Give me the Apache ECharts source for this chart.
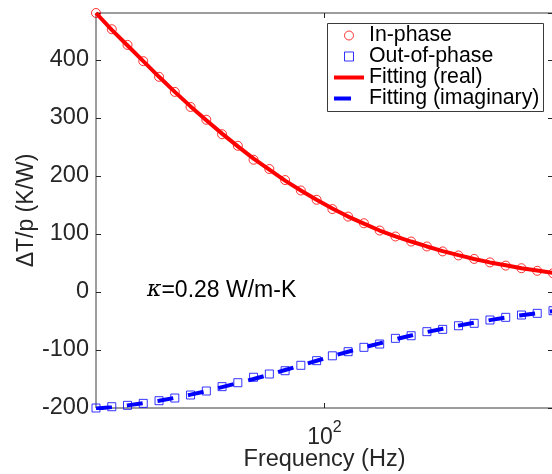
<!DOCTYPE html>
<html>
<head>
<meta charset="utf-8">
<script src="https://cdn.jsdelivr.net/npm/echarts@6/dist/echarts.min.js"></script>
<style>
html,body{margin:0;padding:0;background:#fff;}
#chart{width:552px;height:474px;}
</style>
</head>
<body>
<div id="chart"></div>
<script>
const freq = [20, 22.35, 24.97, 27.9, 31.18, 34.84, 38.93, 43.5, 48.6, 54.31, 60.68, 67.81, 75.77, 84.66, 94.6, 105.7, 118.1, 132.0, 147.5, 164.8, 184.1, 205.7, 229.9, 256.9, 287.0, 320.7, 358.4, 400.4, 447.4, 500];
const inPhase = [481, 453, 426, 398, 371, 345, 319, 297, 272, 252, 228, 212, 193, 175, 159, 143, 130, 118.5, 106, 95.7, 87, 78.5, 70, 63, 57, 51, 45.5, 41, 36.5, 32.3];
const outPhase = [-200, -197.8, -195.4, -192, -187.4, -182.8, -177.6, -170.7, -163.2, -156.4, -147, -141.4, -135.7, -126.4, -118.4, -110, -102.9, -95.4, -89.7, -79.9, -75.4, -68.4, -64.4, -58.2, -54, -48.3, -43.7, -39.7, -36.8, -32.3];
const fitReal = [481, 452, 425, 398, 371, 345, 320, 296, 273, 251, 230, 211, 192, 175, 159, 144, 130, 118, 106, 96, 87, 78.5, 70.5, 63.5, 57, 51, 46, 41, 37, 33];
const fitImag = [-201, -198.5, -195.5, -191.5, -187.5, -182.5, -177, -171, -164, -157, -150, -142.5, -134.5, -126.5, -118.5, -110.5, -103, -95.5, -88.5, -81.5, -75, -69, -63.5, -58, -53, -48.5, -44, -40, -36.5, -33];
const seriesNames = ['In-phase', 'Out-of-phase', 'Fitting (real)', 'Fitting (imaginary)'];
const xTickValues = [100];
const yTickInterval = 100;
const yMin = -200;
const annotation = '=0.28 W/m-K';

const pairs = (ys) => freq.map((f, i) => [f, ys[i]]);
const xMin = Math.min(...freq), xMax = Math.max(...freq);
const yMax = Math.max(...inPhase, ...fitReal);

const TXT = '#262626';
const FONT = 'Liberation Sans, Arial, Helvetica, sans-serif';
const RED = '#ff0000', BLUE = '#0000ff';

const chart = echarts.init(document.getElementById('chart'), null, {renderer: 'canvas'});

const xCommon = {
  type: 'log', logBase: 10, min: xMin, max: xMax,
  axisLine: {show: false, onZero: false},
  splitLine: {show: false},
  minorTick: {show: false},
  axisTick: {show: true, inside: true, length: 5, lineStyle: {color: TXT, width: 1},
    customValues: xTickValues},
};
const yCommon = {
  type: 'value', min: yMin, max: yMax, interval: yTickInterval,
  axisLine: {show: false, onZero: false},
  splitLine: {show: false},
  axisTick: {show: true, inside: true, length: 5, lineStyle: {color: TXT, width: 1}},
};

const squarePath = 'path://M0,0L10,0L10,10L0,10Z';
const noMarker = {color: 'rgba(0,0,0,0)', borderColor: 'rgba(0,0,0,0)', borderWidth: 0, opacity: 0};

chart.setOption({
  animation: false,
  backgroundColor: '#fff',
  grid: {left: 96, top: 13, right: -1, bottom: 66, show: true, borderColor: '#3a3a3a', borderWidth: 1,
    backgroundColor: 'transparent', containLabel: false, outerBoundsMode: 'none'},
  xAxis: [
    Object.assign({}, xCommon, {
      position: 'bottom',
      name: 'Frequency (Hz)', nameLocation: 'middle', nameGap: 40, nameMoveOverlap: false,
      nameTextStyle: {color: TXT, fontSize: 23.5, fontFamily: FONT, verticalAlign: 'top'},
      axisLabel: {
        show: true, margin: 12, customValues: xTickValues,
        formatter: (v) => {
          const e = Math.round(Math.log10(v));
          return Math.abs(Math.pow(10, e) - v) < 1e-6 ? '{a|10}{b|' + e + '}' : '';
        },
        rich: {
          a: {fontSize: 23, fontFamily: FONT, color: TXT, verticalAlign: 'bottom', lineHeight: 29},
          b: {fontSize: 16, fontFamily: FONT, color: TXT, verticalAlign: 'top', lineHeight: 29}
        }
      }
    }),
    Object.assign({}, xCommon, {position: 'top', axisLabel: {show: false}})
  ],
  yAxis: [
    Object.assign({}, yCommon, {
      position: 'left',
      name: 'ΔT/p (K/W)', nameLocation: 'middle', nameGap: 58, nameMoveOverlap: false,
      nameTextStyle: {color: TXT, fontSize: 23, fontFamily: FONT},
      axisLabel: {show: true, margin: 7, color: TXT, fontSize: 23.5, fontFamily: FONT,
        formatter: (v) => (Math.abs(v % yTickInterval) < 1e-9 ? String(v) : '')}
    }),
    Object.assign({}, yCommon, {position: 'right', axisLabel: {show: false}})
  ],
  legend: {
    orient: 'vertical', left: 327, top: 23, z: 20,
    padding: [2, 5, 2, 5], itemGap: 0,
    itemWidth: 30, itemHeight: 9,
    backgroundColor: 'transparent', borderWidth: 0,
    textStyle: {color: '#000', fontSize: 21.3, fontFamily: FONT, lineHeight: 21},
    data: [
      {name: seriesNames[0], icon: 'circle',
        itemStyle: {color: 'rgba(255,255,255,0)', borderColor: RED, borderWidth: 1}},
      {name: seriesNames[1], icon: squarePath,
        itemStyle: {color: 'rgba(255,255,255,0)', borderColor: BLUE, borderWidth: 1}},
      {name: seriesNames[2], itemStyle: noMarker, lineStyle: {color: RED, width: 4}},
      {name: seriesNames[3], itemStyle: noMarker, lineStyle: {color: BLUE, width: 4, type: [17, 15]}}
    ],
    selectedMode: false
  },
  graphic: [
    {type: 'rect', left: 327, top: 23, z: 5,
      shape: {width: 216, height: 88},
      style: {fill: '#fff', stroke: '#3a3a3a', lineWidth: 1}},
    {type: 'text', left: 147, top: 279, z: 100,
      style: {
        text: '{k|κ}{t|' + annotation + '}',
        rich: {
          k: {fontSize: 22, fontFamily: 'DejaVu Serif, serif', fontStyle: 'italic', fill: '#000'},
          t: {fontSize: 23, fontFamily: FONT, fill: '#000'}
        }
      }}
  ],
  series: [
    {name: seriesNames[0], type: 'scatter', data: pairs(inPhase), symbol: 'circle', symbolSize: 9,
      itemStyle: {color: 'rgba(255,255,255,0)', borderColor: RED, borderWidth: 1}, z: 2},
    {name: seriesNames[1], type: 'scatter', data: pairs(outPhase), symbol: 'rect', symbolSize: 8,
      itemStyle: {color: 'rgba(255,255,255,0)', borderColor: BLUE, borderWidth: 1}, z: 2},
    {name: seriesNames[2], type: 'line', data: pairs(fitReal), symbol: 'none', showSymbol: false,
      lineStyle: {color: RED, width: 4}, itemStyle: {color: RED}, z: 3},
    {name: seriesNames[3], type: 'line', data: pairs(fitImag), symbol: 'none', showSymbol: false,
      lineStyle: {color: BLUE, width: 4, type: [16, 15]}, itemStyle: {color: BLUE}, z: 3}
  ]
});
</script>
</body>
</html>
